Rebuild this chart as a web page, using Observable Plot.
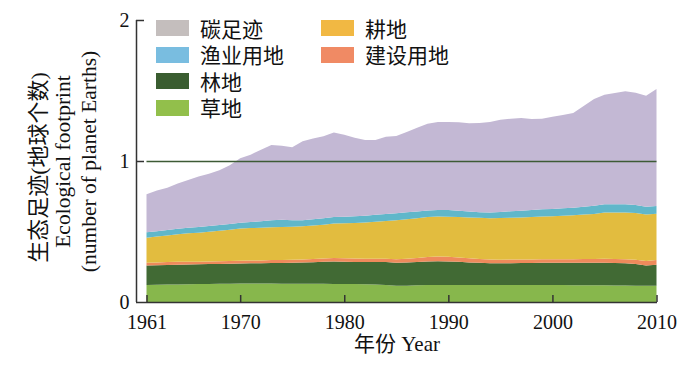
<!DOCTYPE html>
<html>
<head>
<meta charset="utf-8">
<script src="https://cdn.jsdelivr.net/npm/d3@7"></script>
<script src="https://cdn.jsdelivr.net/npm/@observablehq/plot@0.6"></script>
<style>
  body { margin: 0; background: #fff; }
  #wrap { position: relative; width: 700px; height: 370px; overflow: hidden; }
  .legend { position: absolute; left: 156px; top: 15px; display: grid;
    grid-auto-flow: column; grid-template-rows: repeat(4, 26.5px); grid-template-columns: 165px 200px;
    font-family: "Noto Sans CJK SC", sans-serif; font-size: 21px; line-height: 1; color: #111; }
  .item { display: flex; align-items: center; height: 26.5px; }
  .item span { line-height: 1; display: block; }
  .sw { width: 33px; height: 16px; margin-right: 11px; }
</style>
</head>
<body>
<div id="wrap"></div>
<script>
// ---- data ----
const years = d3.range(1961, 2011);
const seriesNames = ["草地", "林地", "建设用地", "耕地", "渔业用地", "碳足迹"];
const grass = [0.120,0.122,0.124,0.125,0.126,0.127,0.128,0.129,0.130,0.132,
  0.132,0.131,0.131,0.130,0.130,0.130,0.129,0.129,0.128,0.128,
  0.127,0.126,0.124,0.121,0.115,0.116,0.118,0.120,0.121,0.121,
  0.121,0.120,0.120,0.120,0.120,0.120,0.120,0.120,0.120,0.120,
  0.120,0.119,0.119,0.118,0.118,0.117,0.117,0.116,0.115,0.115];
const forest = [0.138,0.139,0.139,0.140,0.140,0.140,0.141,0.141,0.141,0.141,
  0.142,0.143,0.145,0.147,0.148,0.150,0.153,0.156,0.160,0.158,
  0.157,0.157,0.159,0.162,0.164,0.165,0.166,0.168,0.168,0.167,
  0.164,0.161,0.158,0.155,0.154,0.155,0.156,0.157,0.158,0.158,
  0.159,0.160,0.160,0.161,0.161,0.160,0.158,0.153,0.143,0.150];
const builtUp = [0.021,0.020,0.020,0.020,0.020,0.019,0.019,0.019,0.019,0.019,
  0.020,0.020,0.021,0.021,0.022,0.022,0.023,0.023,0.024,0.024,
  0.024,0.024,0.024,0.024,0.024,0.026,0.028,0.031,0.033,0.033,
  0.031,0.029,0.027,0.026,0.026,0.026,0.025,0.025,0.025,0.025,
  0.025,0.025,0.026,0.026,0.027,0.028,0.029,0.031,0.032,0.033];
const cropland = [0.177,0.183,0.189,0.195,0.201,0.206,0.211,0.216,0.222,0.229,
  0.230,0.232,0.233,0.234,0.234,0.236,0.238,0.240,0.244,0.248,
  0.252,0.256,0.262,0.268,0.277,0.280,0.282,0.283,0.284,0.284,
  0.287,0.290,0.292,0.293,0.295,0.297,0.299,0.301,0.303,0.305,
  0.308,0.311,0.315,0.320,0.329,0.330,0.331,0.331,0.330,0.328];
const fishing = [0.038,0.038,0.039,0.039,0.040,0.040,0.040,0.041,0.041,0.041,
  0.043,0.046,0.050,0.052,0.045,0.042,0.044,0.046,0.047,0.047,
  0.048,0.048,0.049,0.050,0.050,0.049,0.048,0.047,0.047,0.047,
  0.045,0.042,0.040,0.040,0.043,0.046,0.048,0.050,0.051,0.052,
  0.053,0.054,0.055,0.057,0.059,0.059,0.058,0.057,0.056,0.055];
const carbon = [0.270,0.288,0.299,0.321,0.338,0.358,0.371,0.389,0.417,0.458,
  0.478,0.508,0.533,0.524,0.518,0.560,0.573,0.581,0.600,0.582,
  0.557,0.538,0.531,0.547,0.548,0.569,0.593,0.616,0.624,0.625,
  0.626,0.626,0.633,0.642,0.654,0.656,0.657,0.645,0.643,0.653,
  0.661,0.671,0.715,0.758,0.776,0.788,0.802,0.796,0.786,0.829];
const seriesValues = [grass, forest, builtUp, cropland, fishing, carbon];
const xTicks = [1961, 1970, 1980, 1990, 2000, 2010];
const yTicks = [0, 1, 2];
const xLabel = "年份 Year";
const yLabelLines = ["生态足迹(地球个数)", "Ecological footprint", "(number of planet Earths)"];
const legendNames = ["碳足迹", "渔业用地", "林地", "草地", "耕地", "建设用地"];
const legendColors = ["#c4bebd", "#79bde0", "#3a5d30", "#92bf4b", "#f1b843", "#f08a64"];
const areaColors = ["#87b74c", "#416a34", "#ee8a5b", "#e2bc3f", "#60b7ca", "#c3b8d4"];

// ---- table ----
const rows = [];
seriesNames.forEach((s, i) => years.forEach((y, j) => rows.push({year: y, series: s, value: seriesValues[i][j]})));

const serif = "'Liberation Serif','Noto Sans CJK SC',serif";
const yLabelStyle = [{dx: -98, dy: 6, fontSize: 22}, {dx: -73, dy: 0, fontSize: 21.5}, {dx: -47, dy: 0, fontSize: 21.5}];
const chart = Plot.plot({
  width: 700, height: 370,
  marginTop: 20, marginBottom: 68, marginLeft: 136, marginRight: 43,
  x: {domain: [1961, 2010], range: [146.5, 656.5]},
  y: {domain: [0, 2]},
  color: {domain: seriesNames, range: areaColors},
  style: {fontFamily: serif, fontSize: "20px", color: "#111", background: "#fff"},
  marks: [
    Plot.areaY(rows, {x: "year", y: "value", fill: "series"}),
    Plot.ruleY([1], {x1: 1961, x2: 2010, stroke: "#3d5b35", strokeWidth: 1.3}),
    Plot.ruleX([1961], {dx: -10.5, stroke: "#333", strokeWidth: 1.5}),
    Plot.ruleY([0], {stroke: "#333", strokeWidth: 1.5}),
    Plot.axisX({ticks: xTicks, tickSize: 7, dy: -7, tickFormat: () => "", label: null, stroke: "#333", strokeWidth: 1.5}),
    Plot.axisX({ticks: xTicks, tickSize: 0, tickPadding: 12, tickFormat: d => String(d), label: null, fontSize: 20}),
    Plot.axisY({ticks: [1, 2], tickSize: 8, dx: 8, tickFormat: () => "", label: null, stroke: "#333", strokeWidth: 1.5}),
    Plot.axisY({ticks: yTicks, tickSize: 0, tickPadding: 7, tickFormat: d => String(d), label: null, fontSize: 20}),
    Plot.text([xLabel], {frameAnchor: "bottom", dy: 48, fontSize: 21, fill: "#111"}),
    ...yLabelLines.map((t, i) => Plot.text([t], {frameAnchor: "left", textAnchor: "middle", rotate: -90, fill: "#111", ...yLabelStyle[i]}))
  ]
});
const wrap = document.getElementById("wrap");
wrap.appendChild(chart);

const legend = d3.select(wrap).append("div").attr("class", "legend");
legendNames.forEach((n, i) => {
  const it = legend.append("div").attr("class", "item");
  it.append("div").attr("class", "sw").style("background", legendColors[i]);
  it.append("span").text(n);
});
</script>
</body>
</html>
